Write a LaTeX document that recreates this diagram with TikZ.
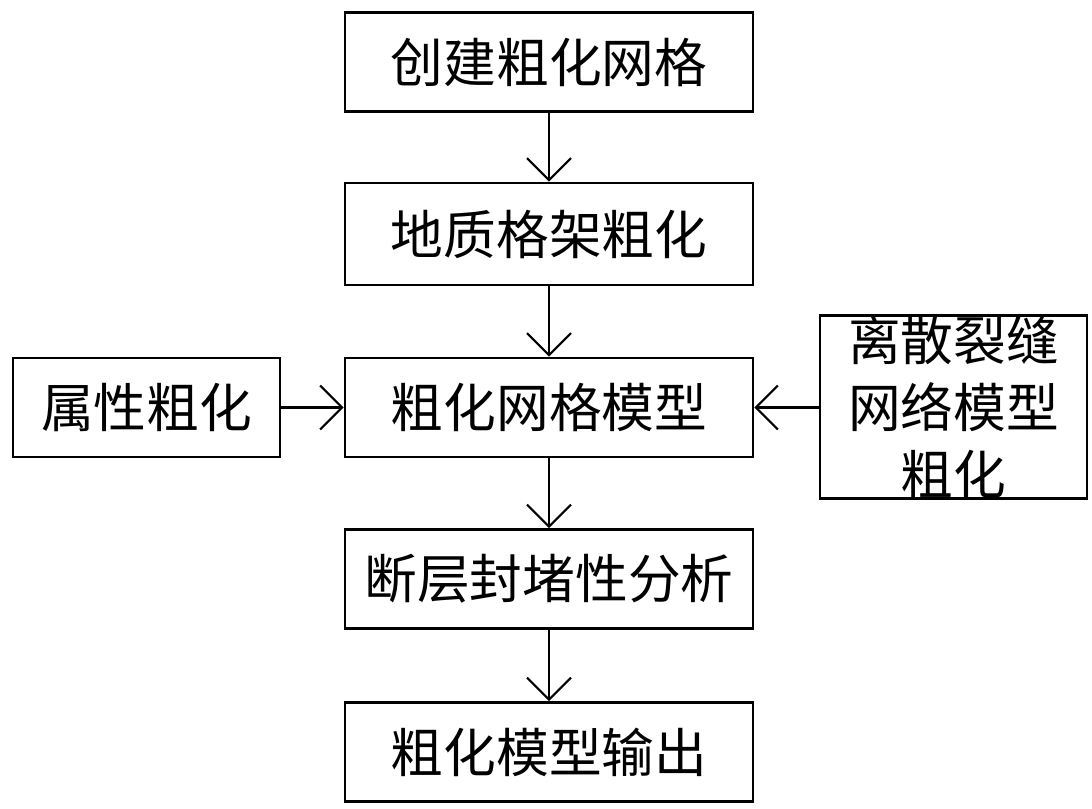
\documentclass[tikz,border=0pt]{standalone}
\usepackage{fontspec}
\newfontfamily\cjk{Noto Sans CJK SC}
\usetikzlibrary{arrows.meta}
\tikzset{
  stage/.style={draw,line width=0.8pt,minimum width=4.08cm,minimum height=0.99cm,font=\cjk\fontsize{15}{19}\selectfont,align=center,inner sep=0pt},
  flow/.style={line width=0.6pt,-{Straight Barb[length=2.2mm,width=4.4mm]}}
}
\begin{document}
\begin{tikzpicture}
    \useasboundingbox (0,0) rectangle (10.92,-8.08);
    % main column
    \node[stage] (grid) at (5.49,-0.62) {创建粗化网格};
    \node[stage,minimum height=1.02cm] (frame) at (5.49,-2.34) {地质格架粗化};
    \node[stage] (model) at (5.49,-4.075) {粗化网格模型};
    \node[stage] (fault) at (5.49,-5.79) {断层封堵性分析};
    \node[stage] (out) at (5.49,-7.52) {粗化模型输出};
    % side inputs
    \node[stage,minimum width=2.67cm] (prop) at (1.465,-4.075) {属性粗化};
    \node[stage,minimum width=2.67cm,minimum height=1.82cm] (dfn) at (9.535,-4.07) {离散裂缝\\网络模型\\粗化};
    \draw[flow] (grid) -- (frame);
    \draw[flow] (frame) -- (model);
    \draw[flow] (model) -- (fault);
    \draw[flow] (fault) -- (out);
    \draw[flow] (prop) -- (model);
    \draw[flow] (dfn.west |- model) -- (model);
\end{tikzpicture}
\end{document}
